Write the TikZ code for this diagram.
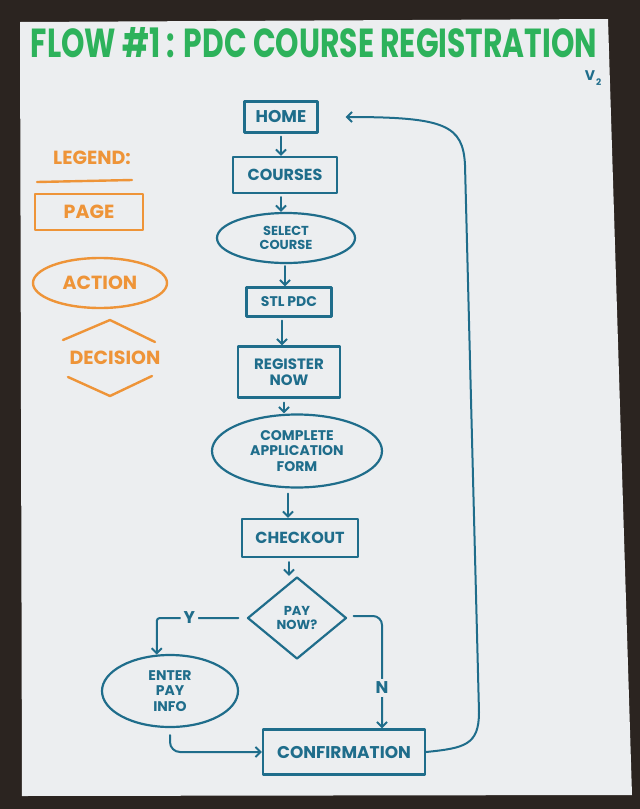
\documentclass[tikz,border=0pt]{standalone}
\usepackage{fontspec}
\setmainfont{Poppins}
\usetikzlibrary{shapes.geometric,arrows.meta}
\definecolor{ink}{HTML}{1F6D8B}
\definecolor{org}{HTML}{EE9438}
\definecolor{grn}{HTML}{2DB25B}
\definecolor{paper}{HTML}{ECEEF0}
\definecolor{desk}{HTML}{2B2420}
\newcommand\myfs[1]{\fontsize{#1}{1.1\dimexpr#1pt\relax}\selectfont\bfseries}
\tikzset{
  base/.style={line width=2.2pt, inner sep=0pt, align=center, line cap=round, line join=round},
  pagebox/.style={base, draw=ink, text=ink, rectangle},
  actbox/.style={base, draw=ink, text=ink, ellipse},
  decbox/.style={base, draw=ink, text=ink, diamond},
  flow/.style={draw=ink, line width=2pt, line cap=round, line join=round, -{Straight Barb[length=5pt,width=10pt,line width=2pt]}},
  orgline/.style={draw=org, line width=2.4pt, line cap=round, line join=round},
  lbl/.style={text=ink, fill=paper, inner sep=3pt},
}
\begin{document}
\begin{tikzpicture}[x=1pt,y=-1pt]
\fill[desk] (0,0) rectangle (640,809);
\useasboundingbox (0,0) rectangle (640,809);
\fill[paper] (20,22) -- (608,19) -- (632,795) -- (22,796) -- cycle;

% title
\node[text=grn, inner sep=0pt] (title) at (314,43) {\resizebox{566pt}{30pt}{\bfseries FLOW \#1 : PDC COURSE REGISTRATION}};
\node[text=ink, inner sep=0pt, font={\myfs{14}}, anchor=north] (ver) at (593,70) {V\kern1pt\raisebox{-5pt}{\myfs{9}2}};

% legend
\node[text=org, inner sep=0pt, font={\myfs{19}}] (legend) at (92,158) {LEGEND:};
\draw[orgline] (37,182) -- (132,180);
\node[base, draw=org, text=org, rectangle, minimum width=108, minimum height=36, line width=2.4pt, font={\myfs{19}}] (lpage) at (89,212) {PAGE};
\node[base, draw=org, text=org, ellipse, minimum width=134, minimum height=50, line width=2.4pt, font={\myfs{19}}] (laction) at (100,283) {ACTION};
\node[text=org, inner sep=0pt, font={\myfs{19}}] (ldec) at (115,358) {DECISION};
\draw[orgline] (63,340) -- (110,320) -- (155,342);
\draw[orgline] (68,377) -- (110,396) -- (152,376);

% flow nodes
\node[pagebox, minimum width=73, minimum height=31, font={\myfs{17}}] (home) at (281,117) {HOME};
\node[pagebox, minimum width=104, minimum height=36, font={\myfs{16}}] (courses) at (285,175) {COURSES};
\node[actbox, minimum width=138, minimum height=50, font={\myfs{13}}] (select) at (286,238) {SELECT\\COURSE};
\node[pagebox, minimum width=85, minimum height=29, font={\myfs{14}}] (stl) at (289,302) {STL PDC};
\node[pagebox, minimum width=102, minimum height=51, font={\myfs{15}}] (register) at (289,372) {REGISTER\\NOW};
\node[actbox, minimum width=170, minimum height=73, font={\myfs{14}}] (complete) at (297,451) {COMPLETE\\APPLICATION\\FORM};
\node[pagebox, minimum width=116, minimum height=38, font={\myfs{16}}] (checkout) at (300,538) {CHECKOUT};
\node[decbox, minimum width=99, minimum height=82, aspect=1.2, font={\myfs{13}}] (pay) at (297,618) {PAY\\NOW?};
\node[actbox, minimum width=136, minimum height=72, font={\myfs{14}}] (enter) at (170,691) {ENTER\\PAY\\INFO};
\node[pagebox, minimum width=162, minimum height=45, font={\myfs{17}}] (confirm) at (344,752) {CONFIRMATION};

% connectors
\draw[flow] ([yshift=-3]home.south) -- (home.south |- courses.north);
\draw[flow] ([yshift=-3]courses.south -| 281,0) -- (281,0 |- select.north);
\draw[flow] ([yshift=-2]select.south -| 285,0) -- (285,0 |- stl.north);
\draw[flow] ([yshift=-3]stl.south -| 282,0) -- (282,0 |- register.north);
\draw[flow] ([yshift=-4]register.south -| 284,0) -- (284,0 |- complete.north);
\draw[flow] ([yshift=-5]complete.south -| 288,0) -- (288,0 |- checkout.north);
\draw[flow] ([yshift=-4]checkout.south -| 289,0) -- (289,0 |- pay.north);

\draw[flow, rounded corners=3pt] ([xshift=-8]pay.west) -| node[lbl, pos=0.3, font={\myfs{17}}] {Y} (enter.110);
\draw[flow, rounded corners=9pt] ([xshift=6,yshift=2]pay.east) -| node[lbl, pos=0.82, font={\myfs{17}}] {N} ([xshift=38]confirm.north);
\draw[flow, rounded corners=10pt] ([yshift=-7]enter.south) |- (confirm.west);
\draw[flow] (confirm.east) .. controls (465,748) and (479,745) .. (479,712)
   -- (465,165) .. controls (463,125) and (445,117) .. ([xshift=27]home.east);
\end{tikzpicture}
\end{document}
